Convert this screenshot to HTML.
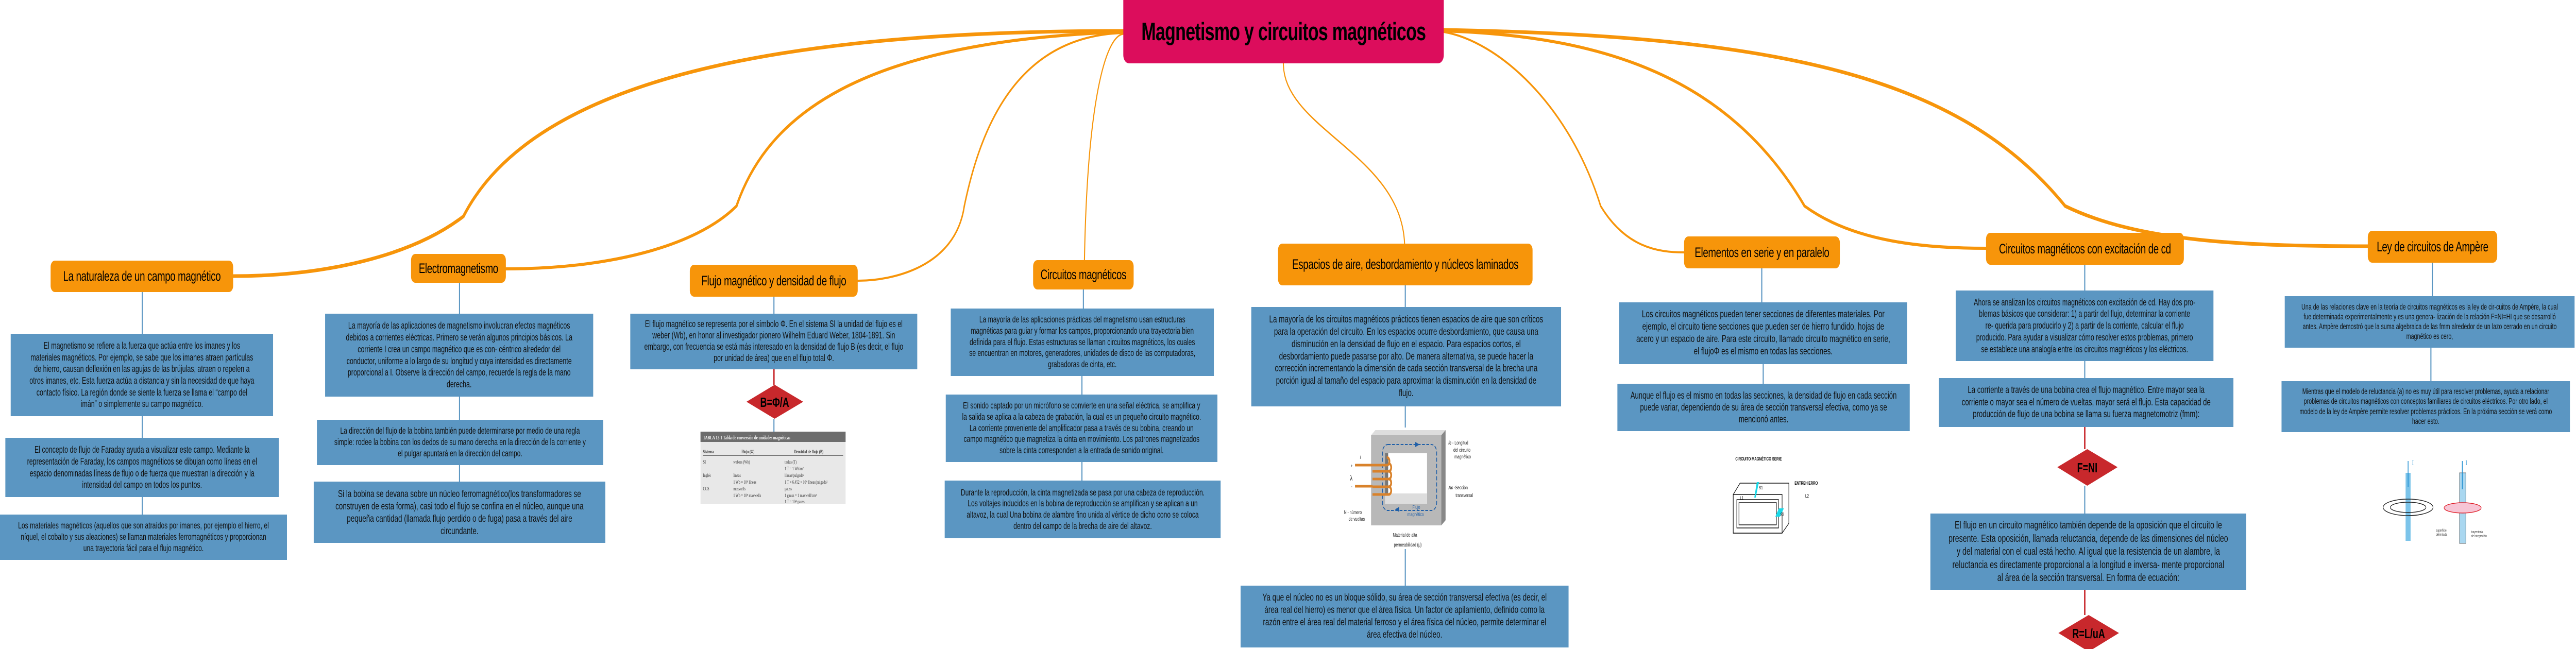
<!DOCTYPE html>
<html><head><meta charset="utf-8">
<style>
html,body{margin:0;padding:0;background:#fff;overflow:hidden;}
#wrap{width:7226px;height:1260px;position:relative;overflow:hidden;font-family:"Liberation Sans",sans-serif;transform-origin:0 0;}
.b{position:absolute;background:#5b96c2;color:#111;display:flex;align-items:center;justify-content:center;text-align:center;white-space:nowrap;box-sizing:border-box;}
.h{position:absolute;background:#f7950a;color:#000;border-radius:12px;display:flex;align-items:center;justify-content:center;font-size:27px;white-space:nowrap;letter-spacing:-0.5px;}
svg{position:absolute;left:0;top:0;}
</style></head><body>
<div id="wrap">
<svg width="7226" height="1260" viewBox="0 0 7226 1260">
<g fill="none" stroke="#f7950a" stroke-linecap="round">
<path d="M3151,60 C2200,60 1500,150 1300,420 C1150,500 900,536 654,536" stroke-width="7"/>
<path d="M3151,62 C2400,80 2150,230 2066,400 C1950,480 1700,522 1419,522" stroke-width="6"/>
<path d="M3151,64 C2850,70 2750,250 2705,400 C2680,520 2500,545 2406,545" stroke-width="4"/>
<path d="M3151,66 C3100,70 3050,200 3042,505" stroke-width="3"/>
<path d="M3600,123 C3600,250 3930,300 3940,473" stroke-width="3"/>
<path d="M4050,62 C4200,80 4400,200 4490,400 C4560,480 4650,490 4724,490" stroke-width="4"/>
<path d="M4050,60 C4500,70 4850,150 5062,400 C5200,470 5400,482 5571,482" stroke-width="6"/>
<path d="M4050,58 C5000,70 5500,150 5793,400 C6000,470 6300,478 6642,478" stroke-width="7"/>
</g>
<g stroke="#5b96c2" stroke-width="3" fill="none">
<path d="M399,567V648M399,808V850M399,965V999"/>
<path d="M1289,549V609M1289,770V815M1289,903V935"/>
<path d="M2171,576V609M2171,813V838"/>
<path d="M3039,562V599M3035,730V766M3035,897V933"/>
<path d="M3942,554V596M3942,789V830M3942,1066V1137"/>
<path d="M4942,521V587M4946,707V745"/>
<path d="M5848,514V564M5848,701V734M5848,943V997"/>
<path d="M6823,510V575M6819,675V740"/>
</g>
<g stroke="#c8282c" stroke-width="4">
<path d="M2171,717V747M5848,829V872M5848,1145V1194"/>
</g>
<polygon points="2094,780 2173,747 2253,780 2173,813" fill="#c8282c"/>
<text x="2173" y="790" font-family="Liberation Sans" font-weight="bold" font-size="26" text-anchor="middle">B=Φ/A</text>
<polygon points="5771,907 5855,872 5940,907 5855,943" fill="#c8282c"/>
<text x="5855" y="917" font-family="Liberation Sans" font-weight="bold" font-size="26" text-anchor="middle">F=NI</text>
<polygon points="5774,1229 5859,1194 5944,1229 5859,1265" fill="#c8282c"/>
<text x="5859" y="1239" font-family="Liberation Sans" font-weight="bold" font-size="26" text-anchor="middle">R=L/uA</text>

<rect x="1965" y="838" width="407" height="140" fill="#e8e8e8"/>
<rect x="1965" y="838" width="407" height="20" fill="#6d6d6d"/>
<text x="1972" y="853" font-size="10" fill="#fff" font-family="Liberation Serif" font-weight="bold">TABLA 12-1   Tabla de conversión de unidades magnéticas</text>
<g font-family="Liberation Serif" font-size="9" fill="#333">
<text x="1972" y="880" font-weight="bold">Sistema</text><text x="2080" y="880" font-weight="bold">Flujo (Φ)</text><text x="2228" y="880" font-weight="bold">Densidad de flujo (B)</text>
<text x="1972" y="900">SI</text><text x="2057" y="900">webers (Wb)</text><text x="2201" y="900">teslas (T)</text>
<text x="2201" y="913">1 T = 1 Wb/m²</text>
<text x="1972" y="926">Inglés</text><text x="2057" y="926">líneas</text><text x="2201" y="926">líneas/pulgada²</text>
<text x="2057" y="939">1 Wb = 10⁸ líneas</text><text x="2201" y="939">1 T = 6.452 × 10⁴ líneas/pulgada²</text>
<text x="1972" y="952">CGS</text><text x="2057" y="952">maxwells</text><text x="2201" y="952">gauss</text>
<text x="2057" y="965">1 Wb = 10⁸ maxwells</text><text x="2201" y="965">1 gauss = 1 maxwell/cm²</text>
<text x="2201" y="977">1 T = 10⁴ gauss</text>
</g>
<line x1="1972" y1="884" x2="2365" y2="884" stroke="#555" stroke-width="1.5"/>

<polygon points="3846,845 3858,835 4055,835 4043,845" fill="#ddd"/>
<polygon points="4043,845 4055,835 4055,1010 4043,1020" fill="#888"/>
<rect x="3846" y="845" width="197" height="175" fill="#b8b8b8"/>
<rect x="3885" y="880" width="118" height="98" fill="#fff"/>
<polygon points="3885,880 3894,880 3894,970 3885,978" fill="#777"/>
<rect x="3885" y="958" width="118" height="20" fill="#ddd"/>
<rect x="3878" y="863" width="152" height="128" rx="15" fill="none" stroke="#1f5fa8" stroke-width="2" stroke-dasharray="8,4"/>
<polygon points="3970,858 3982,863 3970,868" fill="#1f5fa8"/>
<polygon points="3925,984 3913,989 3925,994" fill="#1f5fa8"/>
<g stroke="#d9822b" stroke-width="5" fill="none">
<path d="M3801,903H3890C3900,903 3900,888 3890,888"/>
<path d="M3850,915H3895C3905,915 3905,900 3895,900"/>
<path d="M3850,930H3895C3905,930 3905,915 3895,915"/>
<path d="M3850,945H3895C3905,945 3905,930 3895,930"/>
<path d="M3801,944H3850"/>
<path d="M3850,960H3895C3905,960 3905,945 3895,945"/>
</g>
<g font-family="Liberation Sans" font-size="10" fill="#222">
<text x="3789" y="908">+</text><text x="3787" y="933" font-size="14">λ</text><text x="3790" y="948">-</text>
<text x="3815" y="891" font-style="italic">i</text>
<text x="4063" y="863"><tspan font-style="italic" font-weight="bold">lc</tspan> - Longitud</text><text x="4077" y="877">del circuito</text><text x="4080" y="890">magnético</text>
<text x="4063" y="950"><tspan font-style="italic" font-weight="bold">Ac</tspan> -Sección</text><text x="4083" y="965">transversal</text>
<text x="3770" y="998">N - número</text><text x="3783" y="1011">de vueltas</text>
<text x="3907" y="1042">Material de alta</text><text x="3910" y="1061">permeabilidad (μ)</text>
<text x="3962" y="988" fill="#1f5fa8">Flujo</text><text x="3948" y="1002" fill="#1f5fa8">magnético</text>
</g>

<text x="4868" y="894" font-family="Liberation Sans" font-size="9" font-weight="bold">CIRCUITO MAGNÉTICO SERIE</text>
<g fill="none" stroke="#111" stroke-width="1.5">
<polygon points="4862,960 4881,938 5018,938 5018,1016 4999,1035 4862,1035"/>
<rect x="4862" y="960" width="137" height="75" fill="#fff"/>
<rect x="4872" y="970" width="117" height="55"/>
<rect x="4878" y="976" width="105" height="43"/>
</g>
<polygon points="4921,966 4928,936 4934,936 4925,966" fill="#19d9e8"/>
<polygon points="4980,1003 4990,987 5004,987 4993,1003" fill="#19d9e8"/>
<g font-family="Liberation Sans" font-size="9"><text x="4934" y="950">S1</text><text x="4881" y="970">L1</text><text x="4994" y="1002">S2</text><text x="5064" y="966">L2</text><text x="5034" y="941" font-weight="bold">ENTREHIERRO</text></g>

<rect x="6748" y="918" width="14" height="132" fill="#7cc4ea"/>
<line x1="6755" y1="945" x2="6755" y2="895" stroke="#1a8bd0" stroke-width="2"/>
<text x="6766" y="903" font-size="14" fill="#1a8bd0" font-family="Liberation Serif">I</text>
<ellipse cx="6755" cy="985" rx="70" ry="16" fill="none" stroke="#222" stroke-width="1.5"/>
<ellipse cx="6755" cy="985" rx="50" ry="10" fill="none" stroke="#222" stroke-width="1.5"/>
<rect x="6899" y="918" width="18" height="137" fill="#a9d7f0" stroke="#666"/>
<line x1="6907" y1="950" x2="6907" y2="895" stroke="#1a8bd0" stroke-width="2"/>
<text x="6916" y="903" font-size="14" fill="#1a8bd0" font-family="Liberation Serif">I</text>
<ellipse cx="6908" cy="986" rx="52" ry="10" fill="#f7c5d5" stroke="#e0232d" stroke-width="1.5"/>
<g font-family="Liberation Sans" font-size="7" fill="#333"><text x="6833" y="1032">superficie</text><text x="6833" y="1040">delimitada</text><text x="6932" y="1035">trayectoria</text><text x="6932" y="1043">de integración</text></g>
</svg>

<div style="position:absolute;left:3151px;top:0;width:899px;height:123px;background:#dc0d5c;border-radius:0 0 16px 16px;display:flex;align-items:center;justify-content:center;font-weight:bold;font-size:49px;letter-spacing:-1px;">Magnetismo y circuitos magnéticos</div>

<div class="h" style="left:142px;top:506px;width:512px;height:61px;">La naturaleza de un campo magnético</div>
<div class="h" style="left:1153px;top:493px;width:266px;height:56px;">Electromagnetismo</div>
<div class="h" style="left:1935px;top:514px;width:471px;height:62px;">Flujo magnético y densidad de flujo</div>
<div class="h" style="left:2898px;top:505px;width:282px;height:57px;">Circuitos magnéticos</div>
<div class="h" style="left:3585px;top:473px;width:714px;height:81px;">Espacios de aire, desbordamiento y núcleos laminados</div>
<div class="h" style="left:4724px;top:459px;width:437px;height:62px;">Elementos en serie y en paralelo</div>
<div class="h" style="left:5571px;top:452px;width:555px;height:62px;">Circuitos magnéticos con excitación de cd</div>
<div class="h" style="left:6642px;top:448px;width:363px;height:62px;">Ley de circuitos de Ampère</div>

<div class="b" style="left:30px;top:648px;width:736px;height:160px;font-size:18px;line-height:22.7px;">El magnetismo se refiere a la fuerza que actúa entre los imanes y los<br>materiales magnéticos. Por ejemplo, se sabe que los imanes atraen partículas<br>de hierro, causan deflexión en las agujas de las brújulas, atraen o repelen a<br>otros imanes, etc. Esta fuerza actúa a distancia y sin la necesidad de que haya<br>contacto físico. La región donde se siente la fuerza se llama el “campo del<br>imán” o simplemente su campo magnético.</div>
<div class="b" style="left:15px;top:850px;width:767px;height:115px;font-size:18px;line-height:22.7px;">El concepto de flujo de Faraday ayuda a visualizar este campo. Mediante la<br>representación de Faraday, los campos magnéticos se dibujan como líneas en el<br>espacio denominadas líneas de flujo o de fuerza que muestran la dirección y la<br>intensidad del campo en todos los puntos.</div>
<div class="b" style="left:0px;top:999px;width:805px;height:88px;font-size:17.5px;line-height:21.9px;">Los materiales magnéticos (aquellos que son atraídos por imanes, por ejemplo el hierro, el<br>níquel, el cobalto y sus aleaciones) se llaman materiales ferromagnéticos y proporcionan<br>una trayectoria fácil para el flujo magnético.</div>

<div class="b" style="left:912px;top:609px;width:752px;height:161px;font-size:18px;line-height:22.7px;">La mayoría de las aplicaciones de magnetismo involucran efectos magnéticos<br>debidos a corrientes eléctricas. Primero se verán algunos principios básicos. La<br>corriente I crea un campo magnético que es con- céntrico alrededor del<br>conductor, uniforme a lo largo de su longitud y cuya intensidad es directamente<br>proporcional a I. Observe la dirección del campo, recuerde la regla de la mano<br>derecha.</div>
<div class="b" style="left:889px;top:815px;width:803px;height:88px;font-size:17.5px;line-height:21.9px;">La dirección del flujo de la bobina también puede determinarse por medio de una regla<br>simple: rodee la bobina con los dedos de su mano derecha en la dirección de la corriente y<br>el pulgar apuntará en la dirección del campo.</div>
<div class="b" style="left:880px;top:935px;width:818px;height:119px;font-size:19.5px;line-height:24px;">Si la bobina se devana sobre un núcleo ferromagnético(los transformadores se<br>construyen de esta forma), casi todo el flujo se confina en el núcleo, aunque una<br>pequeña cantidad (llamada flujo perdido o de fuga) pasa a través del aire<br>circundante.</div>

<div class="b" style="left:1768px;top:609px;width:805px;height:108px;font-size:18px;line-height:21.9px;">El flujo magnético se representa por el símbolo Φ. En el sistema SI la unidad del flujo es el<br>weber (Wb), en honor al investigador pionero Wilhelm Eduard Weber, 1804-1891. Sin<br>embargo, con frecuencia se está más interesado en la densidad de flujo B (es decir, el flujo<br>por unidad de área) que en el flujo total Φ.</div>

<div class="b" style="left:2667px;top:599px;width:738px;height:131px;font-size:17.5px;line-height:21.7px;">La mayoría de las aplicaciones prácticas del magnetismo usan estructuras<br>magnéticas para guiar y formar los campos, proporcionando una trayectoria bien<br>definida para el flujo. Estas estructuras se llaman circuitos magnéticos, los cuales<br>se encuentran en motores, generadores, unidades de disco de las computadoras,<br>grabadoras de cinta, etc.</div>
<div class="b" style="left:2653px;top:766px;width:762px;height:131px;font-size:17.5px;line-height:21.7px;">El sonido captado por un micrófono se convierte en una señal eléctrica, se amplifica y<br>la salida se aplica a la cabeza de grabación, la cual es un pequeño circuito magnético.<br>La corriente proveniente del amplificador pasa a través de su bobina, creando un<br>campo magnético que magnetiza la cinta en movimiento. Los patrones magnetizados<br>sobre la cinta corresponden a la entrada de sonido original.</div>
<div class="b" style="left:2650px;top:933px;width:774px;height:112px;font-size:17.5px;line-height:21.7px;">Durante la reproducción, la cinta magnetizada se pasa por una cabeza de reproducción.<br>Los voltajes inducidos en la bobina de reproducción se amplifican y se aplican a un<br>altavoz, la cual Una bobina de alambre fino unida al vértice de dicho cono se coloca<br>dentro del campo de la brecha de aire del altavoz.</div>

<div class="b" style="left:3510px;top:596px;width:869px;height:193px;font-size:19.5px;line-height:23.9px;">La mayoría de los circuitos magnéticos prácticos tienen espacios de aire que son críticos<br>para la operación del circuito. En los espacios ocurre desbordamiento, que causa una<br>disminución en la densidad de flujo en el espacio. Para espacios cortos, el<br>desbordamiento puede pasarse por alto. De manera alternativa, se puede hacer la<br>corrección incrementando la dimensión de cada sección transversal de la brecha una<br>porción igual al tamaño del espacio para aproximar la disminución en la densidad de<br>flujo.</div>
<div class="b" style="left:3480px;top:1137px;width:920px;height:120px;font-size:19.5px;line-height:23.9px;">Ya que el núcleo no es un bloque sólido, su área de sección transversal efectiva (es decir, el<br>área real del hierro) es menor que el área física. Un factor de apilamiento, definido como la<br>razón entre el área real del material ferroso y el área física del núcleo, permite determinar el<br>área efectiva del núcleo.</div>

<div class="b" style="left:4542px;top:587px;width:808px;height:120px;font-size:19.5px;line-height:23.9px;">Los circuitos magnéticos pueden tener secciones de diferentes materiales. Por<br>ejemplo, el circuito tiene secciones que pueden ser de hierro fundido, hojas de<br>acero y un espacio de aire. Para este circuito, llamado circuito magnético en serie,<br>el flujoΦ es el mismo en todas las secciones.</div>
<div class="b" style="left:4537px;top:745px;width:820px;height:92px;font-size:19px;line-height:23px;">Aunque el flujo es el mismo en todas las secciones, la densidad de flujo en cada sección<br>puede variar, dependiendo de su área de sección transversal efectiva, como ya se<br>mencionó antes.</div>

<div class="b" style="left:5486px;top:564px;width:723px;height:137px;font-size:18px;line-height:22.7px;">Ahora se analizan los circuitos magnéticos con excitación de cd. Hay dos pro-<br>blemas básicos que considerar: 1) a partir del flujo, determinar la corriente<br>re- querida para producirlo y 2) a partir de la corriente, calcular el flujo<br>producido. Para ayudar a visualizar cómo resolver estos problemas, primero<br>se establece una analogía entre los circuitos magnéticos y los eléctricos.</div>
<div class="b" style="left:5439px;top:734px;width:826px;height:95px;font-size:19px;line-height:23.6px;">La corriente a través de una bobina crea el flujo magnético. Entre mayor sea la<br>corriente o mayor sea el número de vueltas, mayor será el flujo. Esta capacidad de<br>producción de flujo de una bobina se llama su fuerza magnetomotriz (fmm):</div>
<div class="b" style="left:5415px;top:997px;width:886px;height:148px;font-size:20.5px;line-height:25.4px;">El flujo en un circuito magnético también depende de la oposición que el circuito le<br>presente. Esta oposición, llamada reluctancia, depende de las dimensiones del núcleo<br>y del material con el cual está hecho. Al igual que la resistencia de un alambre, la<br>reluctancia es directamente proporcional a la longitud e inversa- mente proporcional<br>al área de la sección transversal. En forma de ecuación:</div>

<div class="b" style="left:6409px;top:575px;width:813px;height:100px;font-size:15.5px;line-height:19.2px;">Una de las relaciones clave en la teoría de circuitos magnéticos es la ley de cir-cuitos de Ampère, la cual<br>fue determinada experimentalmente y es una genera- lización de la relación F=NI=HI que se desarrolló<br>antes. Ampère demostró que la suma algebraica de las fmm alrededor de un lazo cerrado en un circuito<br>magnético es cero,</div>
<div class="b" style="left:6400px;top:740px;width:809px;height:99px;font-size:15.5px;line-height:19.2px;">Mientras que el modelo de reluctancia (a) no es muy útil para resolver problemas, ayuda a relacionar<br>problemas de circuitos magnéticos con conceptos familiares de circuitos eléctricos. Por otro lado, el<br>modelo de la ley de Ampère permite resolver problemas prácticos. En la próxima sección se verá como<br>hacer esto.</div>
</div>
<script>
(function(){
  var w=document.getElementById('wrap');
  function fit(){
    var sx=window.innerWidth/7226, sy=window.innerHeight/1260;
    if(!(sx>0)) sx=1; if(!(sy>0)) sy=1;
    if(Math.abs(sx-1)<0.002 && Math.abs(sy-1)<0.002){w.style.transform='none';}
    else {w.style.transform='scale('+sx+','+sy+')';}
  }
  fit();
  window.addEventListener('resize',fit);
})();
</script>
</body></html>
